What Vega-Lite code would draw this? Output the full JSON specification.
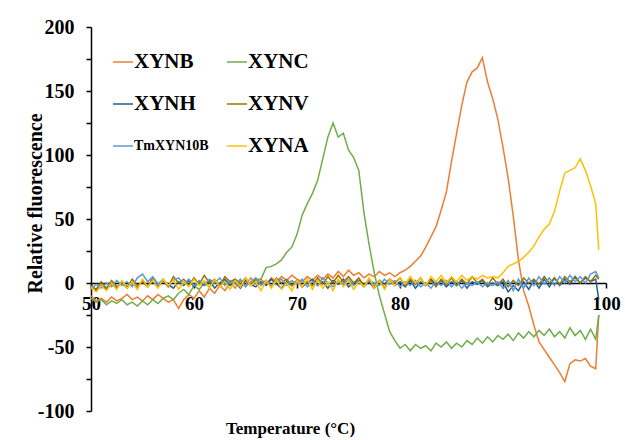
{
"$schema": "https://vega.github.io/schema/vega-lite/v6.json",
"width": 515, "height": 384,
"autosize": "none",
"padding": {"left": 91, "top": 27, "right": 19, "bottom": 29},
"background": "white",
"config": {"view": {"stroke": null}, "font": "Liberation Serif"},
"data": {"values": [
{"s":"XYNB","t":50,"v":-10},{"s":"XYNB","t":50.5,"v":-14},{"s":"XYNB","t":51,"v":-12},{"s":"XYNB","t":51.5,"v":-15},{"s":"XYNB","t":52,"v":-11},{"s":"XYNB","t":52.5,"v":-14},{"s":"XYNB","t":53,"v":-12},{"s":"XYNB","t":53.5,"v":-9},{"s":"XYNB","t":54,"v":-13},{"s":"XYNB","t":54.5,"v":-11},
{"s":"XYNB","t":55,"v":-14},{"s":"XYNB","t":55.5,"v":-10},{"s":"XYNB","t":56,"v":-13},{"s":"XYNB","t":56.5,"v":-9},{"s":"XYNB","t":57,"v":-12},{"s":"XYNB","t":57.5,"v":-15},{"s":"XYNB","t":58,"v":-13},{"s":"XYNB","t":58.5,"v":-20},{"s":"XYNB","t":59,"v":-13},{"s":"XYNB","t":59.5,"v":-9},
{"s":"XYNB","t":60,"v":-12},{"s":"XYNB","t":60.5,"v":-6},{"s":"XYNB","t":61,"v":-11},{"s":"XYNB","t":61.5,"v":-4},{"s":"XYNB","t":62,"v":-8},{"s":"XYNB","t":62.5,"v":-2},{"s":"XYNB","t":63,"v":-6},{"s":"XYNB","t":63.5,"v":0},{"s":"XYNB","t":64,"v":-4},{"s":"XYNB","t":64.5,"v":2},
{"s":"XYNB","t":65,"v":-2},{"s":"XYNB","t":65.5,"v":4},{"s":"XYNB","t":66,"v":0},{"s":"XYNB","t":66.5,"v":3},{"s":"XYNB","t":67,"v":-1},{"s":"XYNB","t":67.5,"v":4},{"s":"XYNB","t":68,"v":1},{"s":"XYNB","t":68.5,"v":5},{"s":"XYNB","t":69,"v":2},{"s":"XYNB","t":69.5,"v":6},
{"s":"XYNB","t":70,"v":3},{"s":"XYNB","t":70.5,"v":1},{"s":"XYNB","t":71,"v":5},{"s":"XYNB","t":71.5,"v":2},{"s":"XYNB","t":72,"v":6},{"s":"XYNB","t":72.5,"v":3},{"s":"XYNB","t":73,"v":7},{"s":"XYNB","t":73.5,"v":4},{"s":"XYNB","t":74,"v":9},{"s":"XYNB","t":74.5,"v":5},
{"s":"XYNB","t":75,"v":10},{"s":"XYNB","t":75.5,"v":6},{"s":"XYNB","t":76,"v":8},{"s":"XYNB","t":76.5,"v":4},{"s":"XYNB","t":77,"v":7},{"s":"XYNB","t":77.5,"v":5},{"s":"XYNB","t":78,"v":9},{"s":"XYNB","t":78.5,"v":6},{"s":"XYNB","t":79,"v":8},{"s":"XYNB","t":79.5,"v":5},
{"s":"XYNB","t":80,"v":8},{"s":"XYNB","t":80.5,"v":10},{"s":"XYNB","t":81,"v":13},{"s":"XYNB","t":81.5,"v":17},{"s":"XYNB","t":82,"v":21},{"s":"XYNB","t":82.5,"v":28},{"s":"XYNB","t":83,"v":36},{"s":"XYNB","t":83.5,"v":44},{"s":"XYNB","t":84,"v":57},{"s":"XYNB","t":84.5,"v":71},
{"s":"XYNB","t":85,"v":95},{"s":"XYNB","t":85.5,"v":117},{"s":"XYNB","t":86,"v":139},{"s":"XYNB","t":86.5,"v":157},{"s":"XYNB","t":87,"v":165},{"s":"XYNB","t":87.5,"v":168},{"s":"XYNB","t":88,"v":176},{"s":"XYNB","t":88.5,"v":157},{"s":"XYNB","t":89,"v":144},{"s":"XYNB","t":89.5,"v":128},
{"s":"XYNB","t":90,"v":106},{"s":"XYNB","t":90.5,"v":82},{"s":"XYNB","t":91,"v":52},{"s":"XYNB","t":91.5,"v":18},{"s":"XYNB","t":92,"v":-6},{"s":"XYNB","t":92.5,"v":-18},{"s":"XYNB","t":93,"v":-33},{"s":"XYNB","t":93.5,"v":-46},{"s":"XYNB","t":94,"v":-52},{"s":"XYNB","t":94.5,"v":-58},
{"s":"XYNB","t":95,"v":-64},{"s":"XYNB","t":95.5,"v":-70},{"s":"XYNB","t":96,"v":-77},{"s":"XYNB","t":96.5,"v":-63},{"s":"XYNB","t":97,"v":-60},{"s":"XYNB","t":97.5,"v":-61},{"s":"XYNB","t":98,"v":-59},{"s":"XYNB","t":98.5,"v":-65},{"s":"XYNB","t":99,"v":-67},{"s":"XYNB","t":99.3,"v":-25},

{"s":"XYNC","t":50,"v":-12},{"s":"XYNC","t":50.5,"v":-15},{"s":"XYNC","t":51,"v":-13},{"s":"XYNC","t":51.5,"v":-17},{"s":"XYNC","t":52,"v":-14},{"s":"XYNC","t":52.5,"v":-16},{"s":"XYNC","t":53,"v":-13},{"s":"XYNC","t":53.5,"v":-17},{"s":"XYNC","t":54,"v":-15},{"s":"XYNC","t":54.5,"v":-18},
{"s":"XYNC","t":55,"v":-14},{"s":"XYNC","t":55.5,"v":-17},{"s":"XYNC","t":56,"v":-13},{"s":"XYNC","t":56.5,"v":-16},{"s":"XYNC","t":57,"v":-12},{"s":"XYNC","t":57.5,"v":-10},{"s":"XYNC","t":58,"v":-13},{"s":"XYNC","t":58.5,"v":-8},{"s":"XYNC","t":59,"v":-5},{"s":"XYNC","t":59.5,"v":-9},
{"s":"XYNC","t":60,"v":-2},{"s":"XYNC","t":60.5,"v":-5},{"s":"XYNC","t":61,"v":0},{"s":"XYNC","t":61.5,"v":-3},{"s":"XYNC","t":62,"v":1},{"s":"XYNC","t":62.5,"v":-2},{"s":"XYNC","t":63,"v":2},{"s":"XYNC","t":63.5,"v":-1},{"s":"XYNC","t":64,"v":3},{"s":"XYNC","t":64.5,"v":0},
{"s":"XYNC","t":65,"v":2},{"s":"XYNC","t":65.5,"v":-1},{"s":"XYNC","t":66,"v":3},{"s":"XYNC","t":66.5,"v":3},{"s":"XYNC","t":67,"v":12},{"s":"XYNC","t":67.5,"v":13},{"s":"XYNC","t":68,"v":15},{"s":"XYNC","t":68.5,"v":18},{"s":"XYNC","t":69,"v":24},{"s":"XYNC","t":69.5,"v":28},
{"s":"XYNC","t":70,"v":38},{"s":"XYNC","t":70.5,"v":53},{"s":"XYNC","t":71,"v":62},{"s":"XYNC","t":71.5,"v":70},{"s":"XYNC","t":72,"v":80},{"s":"XYNC","t":72.5,"v":97},{"s":"XYNC","t":73,"v":114},{"s":"XYNC","t":73.5,"v":125},{"s":"XYNC","t":74,"v":114},{"s":"XYNC","t":74.5,"v":117},
{"s":"XYNC","t":75,"v":104},{"s":"XYNC","t":75.5,"v":98},{"s":"XYNC","t":76,"v":88},{"s":"XYNC","t":76.5,"v":55},{"s":"XYNC","t":77,"v":30},{"s":"XYNC","t":77.5,"v":8},{"s":"XYNC","t":78,"v":-10},{"s":"XYNC","t":78.5,"v":-24},{"s":"XYNC","t":79,"v":-38},{"s":"XYNC","t":79.5,"v":-45},
{"s":"XYNC","t":80,"v":-51},{"s":"XYNC","t":80.5,"v":-48},{"s":"XYNC","t":81,"v":-53},{"s":"XYNC","t":81.5,"v":-48},{"s":"XYNC","t":82,"v":-51},{"s":"XYNC","t":82.5,"v":-49},{"s":"XYNC","t":83,"v":-53},{"s":"XYNC","t":83.5,"v":-47},{"s":"XYNC","t":84,"v":-50},{"s":"XYNC","t":84.5,"v":-46},
{"s":"XYNC","t":85,"v":-51},{"s":"XYNC","t":85.5,"v":-47},{"s":"XYNC","t":86,"v":-50},{"s":"XYNC","t":86.5,"v":-45},{"s":"XYNC","t":87,"v":-48},{"s":"XYNC","t":87.5,"v":-43},{"s":"XYNC","t":88,"v":-47},{"s":"XYNC","t":88.5,"v":-42},{"s":"XYNC","t":89,"v":-46},{"s":"XYNC","t":89.5,"v":-41},
{"s":"XYNC","t":90,"v":-44},{"s":"XYNC","t":90.5,"v":-40},{"s":"XYNC","t":91,"v":-45},{"s":"XYNC","t":91.5,"v":-39},{"s":"XYNC","t":92,"v":-43},{"s":"XYNC","t":92.5,"v":-38},{"s":"XYNC","t":93,"v":-42},{"s":"XYNC","t":93.5,"v":-37},{"s":"XYNC","t":94,"v":-41},{"s":"XYNC","t":94.5,"v":-36},
{"s":"XYNC","t":95,"v":-42},{"s":"XYNC","t":95.5,"v":-38},{"s":"XYNC","t":96,"v":-43},{"s":"XYNC","t":96.5,"v":-35},{"s":"XYNC","t":97,"v":-41},{"s":"XYNC","t":97.5,"v":-37},{"s":"XYNC","t":98,"v":-44},{"s":"XYNC","t":98.5,"v":-36},{"s":"XYNC","t":99,"v":-44},{"s":"XYNC","t":99.3,"v":-25},

{"s":"XYNH","t":50,"v":-3},{"s":"XYNH","t":50.5,"v":-6},{"s":"XYNH","t":51,"v":-2},{"s":"XYNH","t":51.5,"v":-5},{"s":"XYNH","t":52,"v":-1},{"s":"XYNH","t":52.5,"v":-4},{"s":"XYNH","t":53,"v":1},{"s":"XYNH","t":53.5,"v":-3},{"s":"XYNH","t":54,"v":0},{"s":"XYNH","t":54.5,"v":-4},
{"s":"XYNH","t":55,"v":2},{"s":"XYNH","t":55.5,"v":-2},{"s":"XYNH","t":56,"v":1},{"s":"XYNH","t":56.5,"v":-3},{"s":"XYNH","t":57,"v":2},{"s":"XYNH","t":57.5,"v":-1},{"s":"XYNH","t":58,"v":-4},{"s":"XYNH","t":58.5,"v":1},{"s":"XYNH","t":59,"v":-2},{"s":"XYNH","t":59.5,"v":2},
{"s":"XYNH","t":60,"v":-3},{"s":"XYNH","t":60.5,"v":1},{"s":"XYNH","t":61,"v":-2},{"s":"XYNH","t":61.5,"v":2},{"s":"XYNH","t":62,"v":-4},{"s":"XYNH","t":62.5,"v":0},{"s":"XYNH","t":63,"v":3},{"s":"XYNH","t":63.5,"v":-2},{"s":"XYNH","t":64,"v":1},{"s":"XYNH","t":64.5,"v":-4},
{"s":"XYNH","t":65,"v":2},{"s":"XYNH","t":65.5,"v":-1},{"s":"XYNH","t":66,"v":-3},{"s":"XYNH","t":66.5,"v":1},{"s":"XYNH","t":67,"v":-2},{"s":"XYNH","t":67.5,"v":3},{"s":"XYNH","t":68,"v":-1},{"s":"XYNH","t":68.5,"v":-4},{"s":"XYNH","t":69,"v":1},{"s":"XYNH","t":69.5,"v":-2},
{"s":"XYNH","t":70,"v":2},{"s":"XYNH","t":70.5,"v":-3},{"s":"XYNH","t":71,"v":0},{"s":"XYNH","t":71.5,"v":3},{"s":"XYNH","t":72,"v":-2},{"s":"XYNH","t":72.5,"v":1},{"s":"XYNH","t":73,"v":-4},{"s":"XYNH","t":73.5,"v":2},{"s":"XYNH","t":74,"v":-1},{"s":"XYNH","t":74.5,"v":3},
{"s":"XYNH","t":75,"v":-3},{"s":"XYNH","t":75.5,"v":0},{"s":"XYNH","t":76,"v":2},{"s":"XYNH","t":76.5,"v":-2},{"s":"XYNH","t":77,"v":1},{"s":"XYNH","t":77.5,"v":-4},{"s":"XYNH","t":78,"v":2},{"s":"XYNH","t":78.5,"v":-1},{"s":"XYNH","t":79,"v":3},{"s":"XYNH","t":79.5,"v":-2},
{"s":"XYNH","t":80,"v":1},{"s":"XYNH","t":80.5,"v":-3},{"s":"XYNH","t":81,"v":2},{"s":"XYNH","t":81.5,"v":-4},{"s":"XYNH","t":82,"v":1},{"s":"XYNH","t":82.5,"v":-2},{"s":"XYNH","t":83,"v":3},{"s":"XYNH","t":83.5,"v":-1},{"s":"XYNH","t":84,"v":2},{"s":"XYNH","t":84.5,"v":-3},
{"s":"XYNH","t":85,"v":1},{"s":"XYNH","t":85.5,"v":-2},{"s":"XYNH","t":86,"v":2},{"s":"XYNH","t":86.5,"v":-4},{"s":"XYNH","t":87,"v":1},{"s":"XYNH","t":87.5,"v":-1},{"s":"XYNH","t":88,"v":2},{"s":"XYNH","t":88.5,"v":-3},{"s":"XYNH","t":89,"v":0},{"s":"XYNH","t":89.5,"v":-2},
{"s":"XYNH","t":90,"v":1},{"s":"XYNH","t":90.5,"v":-7},{"s":"XYNH","t":91,"v":-2},{"s":"XYNH","t":91.5,"v":-6},{"s":"XYNH","t":92,"v":1},{"s":"XYNH","t":92.5,"v":-5},{"s":"XYNH","t":93,"v":2},{"s":"XYNH","t":93.5,"v":-4},{"s":"XYNH","t":94,"v":3},{"s":"XYNH","t":94.5,"v":-3},
{"s":"XYNH","t":95,"v":4},{"s":"XYNH","t":95.5,"v":-2},{"s":"XYNH","t":96,"v":3},{"s":"XYNH","t":96.5,"v":-1},{"s":"XYNH","t":97,"v":5},{"s":"XYNH","t":97.5,"v":0},{"s":"XYNH","t":98,"v":4},{"s":"XYNH","t":98.5,"v":1},{"s":"XYNH","t":99,"v":3},{"s":"XYNH","t":99.3,"v":-13},

{"s":"XYNV","t":50,"v":-2},{"s":"XYNV","t":50.5,"v":-5},{"s":"XYNV","t":51,"v":1},{"s":"XYNV","t":51.5,"v":-4},{"s":"XYNV","t":52,"v":2},{"s":"XYNV","t":52.5,"v":-3},{"s":"XYNV","t":53,"v":0},{"s":"XYNV","t":53.5,"v":-4},{"s":"XYNV","t":54,"v":3},{"s":"XYNV","t":54.5,"v":-2},
{"s":"XYNV","t":55,"v":1},{"s":"XYNV","t":55.5,"v":-3},{"s":"XYNV","t":56,"v":4},{"s":"XYNV","t":56.5,"v":-1},{"s":"XYNV","t":57,"v":2},{"s":"XYNV","t":57.5,"v":-3},{"s":"XYNV","t":58,"v":5},{"s":"XYNV","t":58.5,"v":0},{"s":"XYNV","t":59,"v":3},{"s":"XYNV","t":59.5,"v":-2},
{"s":"XYNV","t":60,"v":4},{"s":"XYNV","t":60.5,"v":-1},{"s":"XYNV","t":61,"v":6},{"s":"XYNV","t":61.5,"v":0},{"s":"XYNV","t":62,"v":3},{"s":"XYNV","t":62.5,"v":-2},{"s":"XYNV","t":63,"v":5},{"s":"XYNV","t":63.5,"v":1},{"s":"XYNV","t":64,"v":3},{"s":"XYNV","t":64.5,"v":-1},
{"s":"XYNV","t":65,"v":4},{"s":"XYNV","t":65.5,"v":-2},{"s":"XYNV","t":66,"v":3},{"s":"XYNV","t":66.5,"v":-1},{"s":"XYNV","t":67,"v":2},{"s":"XYNV","t":67.5,"v":-3},{"s":"XYNV","t":68,"v":4},{"s":"XYNV","t":68.5,"v":0},{"s":"XYNV","t":69,"v":3},{"s":"XYNV","t":69.5,"v":-2},
{"s":"XYNV","t":70,"v":2},{"s":"XYNV","t":70.5,"v":-3},{"s":"XYNV","t":71,"v":1},{"s":"XYNV","t":71.5,"v":-2},{"s":"XYNV","t":72,"v":4},{"s":"XYNV","t":72.5,"v":-1},{"s":"XYNV","t":73,"v":5},{"s":"XYNV","t":73.5,"v":0},{"s":"XYNV","t":74,"v":6},{"s":"XYNV","t":74.5,"v":1},
{"s":"XYNV","t":75,"v":5},{"s":"XYNV","t":75.5,"v":0},{"s":"XYNV","t":76,"v":4},{"s":"XYNV","t":76.5,"v":-2},{"s":"XYNV","t":77,"v":3},{"s":"XYNV","t":77.5,"v":-3},{"s":"XYNV","t":78,"v":2},{"s":"XYNV","t":78.5,"v":-4},{"s":"XYNV","t":79,"v":3},{"s":"XYNV","t":79.5,"v":0},
{"s":"XYNV","t":80,"v":4},{"s":"XYNV","t":80.5,"v":-2},{"s":"XYNV","t":81,"v":3},{"s":"XYNV","t":81.5,"v":-1},{"s":"XYNV","t":82,"v":4},{"s":"XYNV","t":82.5,"v":-2},{"s":"XYNV","t":83,"v":2},{"s":"XYNV","t":83.5,"v":-3},{"s":"XYNV","t":84,"v":3},{"s":"XYNV","t":84.5,"v":-1},
{"s":"XYNV","t":85,"v":4},{"s":"XYNV","t":85.5,"v":-2},{"s":"XYNV","t":86,"v":3},{"s":"XYNV","t":86.5,"v":-1},{"s":"XYNV","t":87,"v":5},{"s":"XYNV","t":87.5,"v":0},{"s":"XYNV","t":88,"v":3},{"s":"XYNV","t":88.5,"v":-2},{"s":"XYNV","t":89,"v":4},{"s":"XYNV","t":89.5,"v":-1},
{"s":"XYNV","t":90,"v":3},{"s":"XYNV","t":90.5,"v":-3},{"s":"XYNV","t":91,"v":2},{"s":"XYNV","t":91.5,"v":-2},{"s":"XYNV","t":92,"v":4},{"s":"XYNV","t":92.5,"v":0},{"s":"XYNV","t":93,"v":3},{"s":"XYNV","t":93.5,"v":-1},{"s":"XYNV","t":94,"v":5},{"s":"XYNV","t":94.5,"v":0},
{"s":"XYNV","t":95,"v":4},{"s":"XYNV","t":95.5,"v":-1},{"s":"XYNV","t":96,"v":5},{"s":"XYNV","t":96.5,"v":1},{"s":"XYNV","t":97,"v":4},{"s":"XYNV","t":97.5,"v":0},{"s":"XYNV","t":98,"v":5},{"s":"XYNV","t":98.5,"v":1},{"s":"XYNV","t":99,"v":6},{"s":"XYNV","t":99.3,"v":3},

{"s":"TmXYN10B","t":50,"v":-5},{"s":"TmXYN10B","t":50.5,"v":-1},{"s":"TmXYN10B","t":51,"v":-4},{"s":"TmXYN10B","t":51.5,"v":0},{"s":"TmXYN10B","t":52,"v":-3},{"s":"TmXYN10B","t":52.5,"v":2},{"s":"TmXYN10B","t":53,"v":-2},{"s":"TmXYN10B","t":53.5,"v":1},{"s":"TmXYN10B","t":54,"v":-3},{"s":"TmXYN10B","t":54.5,"v":4},
{"s":"TmXYN10B","t":55,"v":7},{"s":"TmXYN10B","t":55.5,"v":1},{"s":"TmXYN10B","t":56,"v":5},{"s":"TmXYN10B","t":56.5,"v":-1},{"s":"TmXYN10B","t":57,"v":3},{"s":"TmXYN10B","t":57.5,"v":-2},{"s":"TmXYN10B","t":58,"v":2},{"s":"TmXYN10B","t":58.5,"v":4},{"s":"TmXYN10B","t":59,"v":-1},{"s":"TmXYN10B","t":59.5,"v":3},
{"s":"TmXYN10B","t":60,"v":-2},{"s":"TmXYN10B","t":60.5,"v":2},{"s":"TmXYN10B","t":61,"v":-1},{"s":"TmXYN10B","t":61.5,"v":3},{"s":"TmXYN10B","t":62,"v":0},{"s":"TmXYN10B","t":62.5,"v":4},{"s":"TmXYN10B","t":63,"v":-2},{"s":"TmXYN10B","t":63.5,"v":2},{"s":"TmXYN10B","t":64,"v":-1},{"s":"TmXYN10B","t":64.5,"v":3},
{"s":"TmXYN10B","t":65,"v":-3},{"s":"TmXYN10B","t":65.5,"v":1},{"s":"TmXYN10B","t":66,"v":4},{"s":"TmXYN10B","t":66.5,"v":-2},{"s":"TmXYN10B","t":67,"v":2},{"s":"TmXYN10B","t":67.5,"v":-3},{"s":"TmXYN10B","t":68,"v":1},{"s":"TmXYN10B","t":68.5,"v":3},{"s":"TmXYN10B","t":69,"v":-2},{"s":"TmXYN10B","t":69.5,"v":2},
{"s":"TmXYN10B","t":70,"v":-1},{"s":"TmXYN10B","t":70.5,"v":3},{"s":"TmXYN10B","t":71,"v":-3},{"s":"TmXYN10B","t":71.5,"v":1},{"s":"TmXYN10B","t":72,"v":-2},{"s":"TmXYN10B","t":72.5,"v":4},{"s":"TmXYN10B","t":73,"v":0},{"s":"TmXYN10B","t":73.5,"v":-3},{"s":"TmXYN10B","t":74,"v":2},{"s":"TmXYN10B","t":74.5,"v":-1},
{"s":"TmXYN10B","t":75,"v":3},{"s":"TmXYN10B","t":75.5,"v":-2},{"s":"TmXYN10B","t":76,"v":1},{"s":"TmXYN10B","t":76.5,"v":-3},{"s":"TmXYN10B","t":77,"v":2},{"s":"TmXYN10B","t":77.5,"v":0},{"s":"TmXYN10B","t":78,"v":-2},{"s":"TmXYN10B","t":78.5,"v":3},{"s":"TmXYN10B","t":79,"v":-1},{"s":"TmXYN10B","t":79.5,"v":2},
{"s":"TmXYN10B","t":80,"v":-3},{"s":"TmXYN10B","t":80.5,"v":1},{"s":"TmXYN10B","t":81,"v":-2},{"s":"TmXYN10B","t":81.5,"v":2},{"s":"TmXYN10B","t":82,"v":-3},{"s":"TmXYN10B","t":82.5,"v":0},{"s":"TmXYN10B","t":83,"v":-4},{"s":"TmXYN10B","t":83.5,"v":1},{"s":"TmXYN10B","t":84,"v":-2},{"s":"TmXYN10B","t":84.5,"v":2},
{"s":"TmXYN10B","t":85,"v":-3},{"s":"TmXYN10B","t":85.5,"v":1},{"s":"TmXYN10B","t":86,"v":-4},{"s":"TmXYN10B","t":86.5,"v":0},{"s":"TmXYN10B","t":87,"v":-2},{"s":"TmXYN10B","t":87.5,"v":1},{"s":"TmXYN10B","t":88,"v":-3},{"s":"TmXYN10B","t":88.5,"v":0},{"s":"TmXYN10B","t":89,"v":-2},{"s":"TmXYN10B","t":89.5,"v":1},
{"s":"TmXYN10B","t":90,"v":-4},{"s":"TmXYN10B","t":90.5,"v":2},{"s":"TmXYN10B","t":91,"v":-6},{"s":"TmXYN10B","t":91.5,"v":3},{"s":"TmXYN10B","t":92,"v":-4},{"s":"TmXYN10B","t":92.5,"v":4},{"s":"TmXYN10B","t":93,"v":-2},{"s":"TmXYN10B","t":93.5,"v":5},{"s":"TmXYN10B","t":94,"v":-1},{"s":"TmXYN10B","t":94.5,"v":4},
{"s":"TmXYN10B","t":95,"v":-2},{"s":"TmXYN10B","t":95.5,"v":5},{"s":"TmXYN10B","t":96,"v":0},{"s":"TmXYN10B","t":96.5,"v":6},{"s":"TmXYN10B","t":97,"v":1},{"s":"TmXYN10B","t":97.5,"v":5},{"s":"TmXYN10B","t":98,"v":0},{"s":"TmXYN10B","t":98.5,"v":7},{"s":"TmXYN10B","t":99,"v":9},{"s":"TmXYN10B","t":99.3,"v":4},

{"s":"XYNA","t":50,"v":-3},{"s":"XYNA","t":50.5,"v":-7},{"s":"XYNA","t":51,"v":-2},{"s":"XYNA","t":51.5,"v":-6},{"s":"XYNA","t":52,"v":0},{"s":"XYNA","t":52.5,"v":-5},{"s":"XYNA","t":53,"v":2},{"s":"XYNA","t":53.5,"v":-4},{"s":"XYNA","t":54,"v":1},{"s":"XYNA","t":54.5,"v":-5},
{"s":"XYNA","t":55,"v":3},{"s":"XYNA","t":55.5,"v":-3},{"s":"XYNA","t":56,"v":2},{"s":"XYNA","t":56.5,"v":-4},{"s":"XYNA","t":57,"v":3},{"s":"XYNA","t":57.5,"v":-2},{"s":"XYNA","t":58,"v":2},{"s":"XYNA","t":58.5,"v":-5},{"s":"XYNA","t":59,"v":1},{"s":"XYNA","t":59.5,"v":-3},
{"s":"XYNA","t":60,"v":3},{"s":"XYNA","t":60.5,"v":-2},{"s":"XYNA","t":61,"v":2},{"s":"XYNA","t":61.5,"v":-4},{"s":"XYNA","t":62,"v":3},{"s":"XYNA","t":62.5,"v":-3},{"s":"XYNA","t":63,"v":1},{"s":"XYNA","t":63.5,"v":-5},{"s":"XYNA","t":64,"v":2},{"s":"XYNA","t":64.5,"v":-3},
{"s":"XYNA","t":65,"v":4},{"s":"XYNA","t":65.5,"v":-2},{"s":"XYNA","t":66,"v":1},{"s":"XYNA","t":66.5,"v":-6},{"s":"XYNA","t":67,"v":2},{"s":"XYNA","t":67.5,"v":-4},{"s":"XYNA","t":68,"v":3},{"s":"XYNA","t":68.5,"v":-5},{"s":"XYNA","t":69,"v":0},{"s":"XYNA","t":69.5,"v":-6},
{"s":"XYNA","t":70,"v":2},{"s":"XYNA","t":70.5,"v":-3},{"s":"XYNA","t":71,"v":3},{"s":"XYNA","t":71.5,"v":-5},{"s":"XYNA","t":72,"v":2},{"s":"XYNA","t":72.5,"v":-4},{"s":"XYNA","t":73,"v":1},{"s":"XYNA","t":73.5,"v":-6},{"s":"XYNA","t":74,"v":3},{"s":"XYNA","t":74.5,"v":-3},
{"s":"XYNA","t":75,"v":2},{"s":"XYNA","t":75.5,"v":-5},{"s":"XYNA","t":76,"v":1},{"s":"XYNA","t":76.5,"v":-3},{"s":"XYNA","t":77,"v":4},{"s":"XYNA","t":77.5,"v":-4},{"s":"XYNA","t":78,"v":2},{"s":"XYNA","t":78.5,"v":-5},{"s":"XYNA","t":79,"v":3},{"s":"XYNA","t":79.5,"v":-2},
{"s":"XYNA","t":80,"v":4},{"s":"XYNA","t":80.5,"v":-1},{"s":"XYNA","t":81,"v":5},{"s":"XYNA","t":81.5,"v":0},{"s":"XYNA","t":82,"v":4},{"s":"XYNA","t":82.5,"v":-2},{"s":"XYNA","t":83,"v":5},{"s":"XYNA","t":83.5,"v":1},{"s":"XYNA","t":84,"v":6},{"s":"XYNA","t":84.5,"v":0},
{"s":"XYNA","t":85,"v":5},{"s":"XYNA","t":85.5,"v":1},{"s":"XYNA","t":86,"v":6},{"s":"XYNA","t":86.5,"v":2},{"s":"XYNA","t":87,"v":5},{"s":"XYNA","t":87.5,"v":3},{"s":"XYNA","t":88,"v":6},{"s":"XYNA","t":88.5,"v":4},{"s":"XYNA","t":89,"v":5},{"s":"XYNA","t":89.5,"v":4},
{"s":"XYNA","t":90,"v":8},{"s":"XYNA","t":90.5,"v":13},{"s":"XYNA","t":91,"v":15},{"s":"XYNA","t":91.5,"v":17},{"s":"XYNA","t":92,"v":20},{"s":"XYNA","t":92.5,"v":24},{"s":"XYNA","t":93,"v":29},{"s":"XYNA","t":93.5,"v":36},{"s":"XYNA","t":94,"v":42},{"s":"XYNA","t":94.5,"v":46},
{"s":"XYNA","t":95,"v":56},{"s":"XYNA","t":95.5,"v":72},{"s":"XYNA","t":96,"v":86},{"s":"XYNA","t":96.5,"v":88},{"s":"XYNA","t":97,"v":90},{"s":"XYNA","t":97.5,"v":97},{"s":"XYNA","t":98,"v":88},{"s":"XYNA","t":98.5,"v":76},{"s":"XYNA","t":99,"v":62},{"s":"XYNA","t":99.3,"v":26}
]},
"mark": {"type": "line", "strokeWidth": 1.5},
"encoding": {
  "x": {"field": "t", "type": "quantitative", "scale": {"domain": [50, 100], "nice": false, "zero": false},
    "axis": {"values": [50, 60, 70, 80, 90, 100], "offset": -128, "grid": false,
      "domainColor": "black", "domainWidth": 1.5, "tickColor": "black", "tickWidth": 1.5, "tickSize": 5,
      "labelFont": "Liberation Serif", "labelFontWeight": "bold", "labelFontSize": 19, "labelColor": "black", "labelPadding": 6, "labelFlush": false, "labelOverlap": false,
      "title": "Temperature (°C)", "titleFont": "Liberation Serif", "titleFontWeight": "bold", "titleFontSize": 17, "titleColor": "black",
      "titleX": 199, "titleY": 150, "titleAlign": "center", "titleBaseline": "alphabetic", "titleAnchor": null}},
  "y": {"field": "v", "type": "quantitative", "scale": {"domain": [-100, 200], "nice": false},
    "axis": {"values": [-100, -75, -50, -25, 0, 25, 50, 75, 100, 125, 150, 175, 200], "grid": false,
      "labelExpr": "datum.value % 50 === 0 ? replace(datum.label, '−', '-') : ''",
      "domainColor": "black", "domainWidth": 1.5, "tickColor": "black", "tickWidth": 1.5, "tickSize": 5,
      "labelFont": "Liberation Serif", "labelFontWeight": "bold", "labelFontSize": 20, "labelColor": "black", "labelPadding": 12, "labelFlush": false, "labelOverlap": false,
      "title": "Relative fluorescence", "titleFont": "Liberation Serif", "titleFontWeight": "bold", "titleFontSize": 20, "titleColor": "black",
      "titleX": -56, "titleY": 176, "titleAngle": -90, "titleAlign": "center", "titleBaseline": "middle", "titleAnchor": null,
      "encode": {"ticks": {"update": {"x2": {"value": 5}}}}}},
  "color": {"field": "s", "type": "nominal",
    "scale": {"domain": ["XYNB", "XYNH", "TmXYN10B", "XYNC", "XYNV", "XYNA"], "range": ["#ED7D31", "#255E91", "#5B9BD5", "#70AD47", "#997300", "#FFC000"]},
    "legend": {"title": null, "orient": "none", "legendX": 21, "legendY": 24, "columns": 2, "padding": 0,
      "symbolType": "stroke", "symbolSize": 400, "symbolStrokeWidth": 1.5,
      "labelFont": "Liberation Serif", "labelFontWeight": "bold", "labelFontSize": 21, "labelColor": "black", "labelOffset": 0,
      "rowPadding": 21, "columnPadding": 15,
      "encode": {"labels": {"update": {"fontSize": {"signal": "datum.label === 'TmXYN10B' ? 14 : 21"}}}}}}
}
}
